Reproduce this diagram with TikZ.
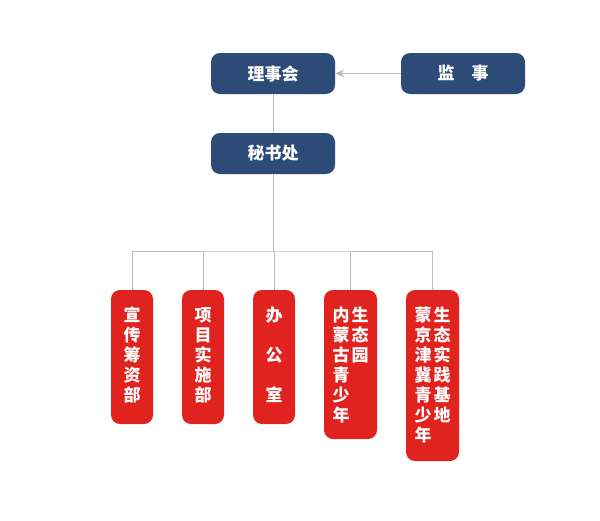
\documentclass[tikz,border=0pt]{standalone}
\usepackage{fontspec}
\newfontfamily\cjk{Noto Sans CJK SC}
\usetikzlibrary{arrows.meta}
\definecolor{boardblue}{HTML}{2C4B76}
\definecolor{deptred}{HTML}{E0231F}
\definecolor{linegray}{HTML}{BDBDBD}
\tikzset{
  topbox/.style={draw=none,fill=boardblue,rounded corners=9pt,minimum width=124pt,minimum height=41pt,text=white,font=\cjk\bfseries\fontsize{17}{20}\selectfont},
  deptbox/.style={draw=none,fill=deptred,rounded corners=9pt,text=white,inner sep=0pt},
  vtext/.style={text=white,font=\cjk\bfseries\fontsize{17}{20}\selectfont,align=center,anchor=north,inner sep=0pt},
  link/.style={draw=linegray,line width=0.8pt}
}
\begin{document}
\begin{tikzpicture}[x=1pt,y=1pt,yscale=-1]
\useasboundingbox (0,0) rectangle (600,520);

% top boxes
\node[topbox] (board) at (273,73.5) {理事会};
\node[topbox] (supervisor) at (463,73.5) {监\hspace{17pt}事};
\node[topbox] (office) at (273,153.5) {秘书处};

% departments
\node[deptbox,minimum width=42pt,minimum height=134pt] (d1) at (132,357) {};
\node[deptbox,minimum width=42pt,minimum height=134pt] (d2) at (203,357) {};
\node[deptbox,minimum width=42pt,minimum height=134pt] (d3) at (274,357) {};
\node[deptbox,minimum width=53pt,minimum height=149pt] (d4) at (350.5,364.5) {};
\node[deptbox,minimum width=53pt,minimum height=171pt] (d5) at (432.5,375.5) {};

\node[vtext] (t1) at (132,307) {宣\\传\\筹\\资\\部};
\node[vtext] (t2) at (203,307) {项\\目\\实\\施\\部};
\node[vtext] (t3) at (274,307) {办\\[20pt]公\\[20pt]室};
\node[vtext] (t4a) at (341,307) {内\\蒙\\古\\青\\少\\年};
\node[vtext] (t4b) at (360,307) {生\\态\\园};
\node[vtext] (t5a) at (423,307) {蒙\\京\\津\\冀\\青\\少\\年};
\node[vtext] (t5b) at (442,307) {生\\态\\实\\践\\基\\地};

% connectors
\coordinate (hub) at (273,251);
\draw[link,-{Stealth[length=9pt,width=8pt]}] (supervisor.west) -- (board.east);
\draw[link] (board.south) -- (office.north);
\draw[link] (office.south) -- (hub);
\draw[link] (d1.north) |- (hub) -| (d5.north);
\draw[link] (d2.north) -- (d2.north |- hub);
\draw[link] (d3.north) -- (d3.north |- hub);
\draw[link] (d4.north) -- (d4.north |- hub);
\end{tikzpicture}
\end{document}
